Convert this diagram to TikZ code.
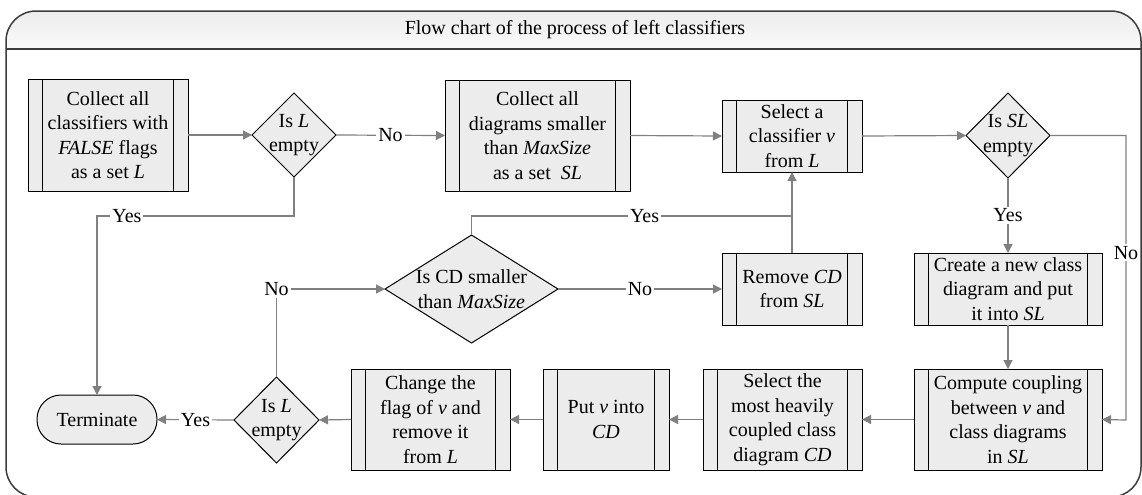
\documentclass[tikz,border=0pt]{standalone}
\usepackage{fontspec}
\setmainfont{Liberation Serif}
\usetikzlibrary{shapes.geometric,arrows.meta,calc}
\definecolor{boxfill}{RGB}{236,236,236}
\definecolor{linegray}{RGB}{128,128,128}
\definecolor{framegray}{RGB}{60,60,60}
\newcommand{\innerbars}[1]{%
  \draw[black,line width=0.5pt] ($(#1.north west)+(14.5,0)$) -- ($(#1.south west)+(14.5,0)$);
  \draw[black,line width=0.5pt] ($(#1.north east)+(-14.5,0)$) -- ($(#1.south east)+(-14.5,0)$);}
\begin{document}
\begin{tikzpicture}[x=0.5pt,y=-0.5pt,
  every node/.style={font=\fontsize{10}{12.25}\selectfont},
  proc/.style={draw=black,line width=0.5pt,fill=boxfill,rectangle,inner sep=0pt,outer sep=0pt,align=center},
  dia/.style={draw=black,line width=0.5pt,fill=boxfill,diamond,inner sep=0pt,outer sep=0pt},
  diatext/.style={align=center,inner sep=0pt},
  term/.style={draw=black,line width=0.5pt,fill=boxfill,rectangle,rounded corners=12pt,inner sep=0pt,outer sep=0pt,minimum width=60pt,minimum height=24.5pt},
  line/.style={draw=linegray,line width=0.6pt},
  arr/.style={line,-{Triangle[length=4.5pt,width=4.5pt]}},
  lab/.style={fill=white,inner sep=1pt}]
\useasboundingbox (0,0) rectangle (1142,494);
% frame and title band
\begin{scope}
\clip[rounded corners=15pt] (6,11) rectangle (1141,497);
\shade[top color={rgb,255:red,236;green,236;blue,236},bottom color={rgb,255:red,250;green,250;blue,250}] (6,11) rectangle (1141,49);
\end{scope}
\draw[framegray,line width=0.75pt] (6,49) -- (1141,49);
\draw[framegray,line width=0.75pt,rounded corners=15pt] (6,11) rectangle (1141,497);
\node (title) at (575,30) {Flow chart of the process of left classifiers};
% nodes
\node[proc,minimum width=80pt,minimum height=56pt] (n1) at (108,135) {Collect all\\classifiers with\\\textit{FALSE} flags\\as a set \textit{L}};
\innerbars{n1}
\node[dia,minimum width=42pt,minimum height=42pt] (d1) at (294,135) {};
\node[diatext] (d1t) at (d1) {Is \textit{L}\\empty};
\node[proc,minimum width=92.5pt,minimum height=55.5pt] (n3) at (537.5,135.5) {Collect all\\diagrams smaller\\than \textit{MaxSize}\\as a set\ \ \textit{SL}};
\innerbars{n3}
\node[proc,minimum width=70pt,minimum height=36pt] (n4) at (792,136) {Select a\\classifier \textit{v}\\from \textit{L}};
\innerbars{n4}
\node[dia,minimum width=42pt,minimum height=42.5pt] (d2) at (1008,135.5) {};
\node[diatext] (d2t) at (d2) {Is \textit{SL}\\empty};
\node[proc,minimum width=94pt,minimum height=36pt] (create) at (1008,289) {Create a new class\\diagram and put\\it into \textit{SL}};
\innerbars{create}
\node[proc,minimum width=70pt,minimum height=36pt] (remove) at (792,289) {Remove \textit{CD}\\from \textit{SL}};
\innerbars{remove}
\node[dia,minimum width=86.5pt,minimum height=54pt] (iscd) at (471.5,289) {};
\node[diatext] (iscdt) at (iscd) {Is CD smaller\\than \textit{MaxSize}};
\node[proc,minimum width=94pt,minimum height=50.5pt] (compute) at (1008,419.5) {Compute coupling\\between \textit{v} and\\class diagrams\\in \textit{SL}};
\innerbars{compute}
\node[proc,minimum width=79.5pt,minimum height=50.5pt] (selmost) at (782.5,419.5) {Select the\\most heavily\\coupled class\\diagram \textit{CD}};
\innerbars{selmost}
\node[proc,minimum width=63pt,minimum height=50.5pt] (putv) at (606,419.5) {Put \textit{v} into\\\textit{CD}};
\innerbars{putv}
\node[proc,minimum width=79.5pt,minimum height=50.5pt] (change) at (430.5,419.5) {Change the\\flag of \textit{v} and\\remove it\\from \textit{L}};
\innerbars{change}
\node[dia,minimum width=42.5pt,minimum height=43pt] (d3) at (276.5,420) {};
\node[diatext] (d3t) at (d3) {Is \textit{L}\\empty};
\node[term] (term) at (97,419.5) {Terminate};
% helper coordinates
\coordinate (c1) at (97,216);
\coordinate (c2) at (1126,420);
\coordinate (c3) at (792,216);
% connectors
\draw[arr] (n1.east) -- (d1.west);
\draw[arr] (d1.east) -- node[lab]{No} (n3.west);
\draw[arr] (n3.east) -- (n4.west);
\draw[arr] (n4.east) -- (d2.west);
\draw[arr] (d2.south) -- node[lab]{Yes} (create.north);
\draw[arr] (d2.east) -| node[lab,pos=0.706]{No} (c2) -- (compute.east);
\draw[arr] (create.south) -- (compute.north);
\draw[arr] (compute.west) -- (selmost.east);
\draw[arr] (selmost.west) -- (putv.east);
\draw[arr] (putv.west) -- (change.east);
\draw[arr] (change.west) -- (d3.east);
\draw[arr] (d3.west) -- node[lab]{Yes} (term.east);
\draw[arr] (d1.south) |- node[lab,pos=0.924]{Yes} (c1) -- (term.north);
\draw[arr] (d3.north) |- node[lab,pos=0.5]{No} (iscd.west);
\draw[arr] (iscd.east) -- node[lab]{No} (remove.west);
\draw[arr] (remove.north) -- (n4.south);
\draw[line] (iscd.north) |- node[lab,pos=0.77]{Yes} (c3);
\end{tikzpicture}
\end{document}
